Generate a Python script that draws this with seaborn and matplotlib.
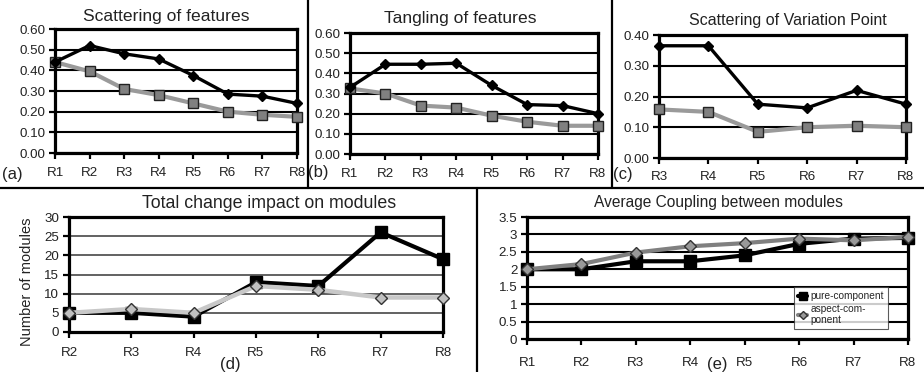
import numpy as np
import pandas as pd
import matplotlib
matplotlib.use("Agg")
import matplotlib.pyplot as plt
import seaborn as sns
from matplotlib.lines import Line2D
from matplotlib.ticker import FuncFormatter, MultipleLocator

# ---------------- data ----------------
rel_a = ["R1", "R2", "R3", "R4", "R5", "R6", "R7", "R8"]
scat_feat_aspect = [0.44, 0.52, 0.48, 0.455, 0.375, 0.285, 0.275, 0.24]
scat_feat_pure = [0.44, 0.395, 0.31, 0.28, 0.24, 0.20, 0.185, 0.175]

rel_b = ["R1", "R2", "R3", "R4", "R5", "R6", "R7", "R8"]
tang_feat_aspect = [0.33, 0.445, 0.445, 0.45, 0.34, 0.245, 0.24, 0.20]
tang_feat_pure = [0.325, 0.30, 0.24, 0.23, 0.19, 0.16, 0.14, 0.14]

rel_c = ["R3", "R4", "R5", "R6", "R7", "R8"]
scat_vp_aspect = [0.365, 0.365, 0.175, 0.163, 0.22, 0.175]
scat_vp_pure = [0.158, 0.15, 0.085, 0.10, 0.105, 0.10]

rel_d = ["R2", "R3", "R4", "R5", "R6", "R7", "R8"]
impact_pure = [5, 5, 4, 13, 12, 26, 19]
impact_aspect = [5, 6, 5, 12, 11, 9, 9]

rel_e = ["R1", "R2", "R3", "R4", "R5", "R6", "R7", "R8"]
coupling_pure = [2.0, 2.0, 2.23, 2.23, 2.4, 2.73, 2.88, 2.9]
coupling_aspect = [2.0, 2.15, 2.48, 2.66, 2.75, 2.88, 2.83, 2.93]

titles = ["Scattering of features", "Tangling of features",
          "Scattering of Variation Point", "Total change impact on modules",
          "Average Coupling between modules"]
legend_labels = ["pure-component", "aspect-com-\nponent"]

# ---------------- style ----------------
sns.set_theme(style="white")
plt.rcParams["font.family"] = ["Liberation Sans", "DejaVu Sans"]

W, H = 924, 372
fig = plt.figure(figsize=(W / 100, H / 100), dpi=100)
fig.patch.set_facecolor("white")


def add_ax(l, t, r, b):
    return fig.add_axes([l / W, 1 - b / H, (r - l) / W, (b - t) / H])


def style_ax(ax, cats, ymax, ystep, fmt, xpad, grid_color="black", grid_lw=1.5):
    ax.set_xlim(0, len(cats) - 1)
    ax.set_ylim(0, ymax)
    ax.set_xticks(range(len(cats)))
    ax.set_xticklabels(cats)
    ax.yaxis.set_major_locator(MultipleLocator(ystep))
    ax.yaxis.set_major_formatter(FuncFormatter(fmt))
    ax.set_axisbelow(True)
    ax.yaxis.grid(True, color=grid_color, lw=grid_lw)
    ax.xaxis.grid(False)
    for s in ax.spines.values():
        s.set_visible(True)
        s.set_color("black")
        s.set_linewidth(2.3)
    ax.tick_params(axis="both", bottom=True, left=True, direction="out",
                   length=4, width=1.6, color="black", labelsize=9.6,
                   labelcolor="#222222")
    ax.tick_params(axis="x", pad=xpad)
    ax.tick_params(axis="y", pad=3)
    ax.set_xlabel("")
    ax.set_ylabel("")
    ax.set_facecolor("white")


def draw(ax, vals, color, marker, ms, mfc, mec, lw, label=None):
    sns.lineplot(x=np.arange(len(vals)), y=vals, ax=ax, color=color,
                 marker=marker, markersize=ms, markerfacecolor=mfc,
                 markeredgecolor=mec, markeredgewidth=1.0, linewidth=lw,
                 label=label, legend=False, clip_on=False, zorder=3)


f2 = lambda v, p: f"{v:.2f}"
fg = lambda v, p: f"{v:g}"

# (a)
ax = add_ax(55, 29, 297, 153)
draw(ax, scat_feat_pure, "#9a9a9a", "s", 7.8, "#808080", "#222222", 3.0)
draw(ax, scat_feat_aspect, "black", "D", 5.5, "black", "black", 2.4)
style_ax(ax, rel_a, 0.6, 0.1, f2, 6)

# (b)
ax = add_ax(350, 33, 598, 154)
draw(ax, tang_feat_pure, "#9a9a9a", "s", 7.8, "#808080", "#222222", 3.0)
draw(ax, tang_feat_aspect, "black", "D", 5.5, "black", "black", 2.4)
style_ax(ax, rel_b, 0.6, 0.1, f2, 6)

# (c)
ax = add_ax(659, 35, 906, 158)
draw(ax, scat_vp_pure, "#9a9a9a", "s", 7.8, "#808080", "#222222", 3.0)
draw(ax, scat_vp_aspect, "black", "D", 5.5, "black", "black", 2.4)
style_ax(ax, rel_c, 0.4, 0.1, f2, 5)

# (d)
ax = add_ax(69, 217, 443, 332)
draw(ax, impact_pure, "black", "s", 8, "black", "black", 3.0)
draw(ax, impact_aspect, "#c8c8c8", "D", 6.5, "#c0c0c0", "#333333", 3.2)
style_ax(ax, rel_d, 30, 5, fg, 7, grid_color="#555555", grid_lw=1.3)

# (e)
ax = add_ax(527, 217, 908, 339)
draw(ax, coupling_pure, "black", "s", 8, "black", "black", 3.0, legend_labels[0])
draw(ax, coupling_aspect, "#808080", "D", 6.5, "#999999", "#333333", 3.0, legend_labels[1])
style_ax(ax, rel_e, 3.5, 0.5, fg, 9)
lines = ax.get_lines()
leg = ax.legend(lines[:2], legend_labels, loc="upper left",
                bbox_to_anchor=(789 / W, 1 - 282 / H), bbox_transform=fig.transFigure,
                fontsize=7.3, frameon=True, fancybox=False, edgecolor="#333333",
                handlelength=0.9, handletextpad=0.3, borderpad=0.4,
                labelspacing=0.25, markerscale=0.7)
leg.get_frame().set_linewidth(0.8)

# titles
fig.text(166 / W, 1 - 16 / H, titles[0], ha="center", va="center", fontsize=12.6, color="#222222")
fig.text(460 / W, 1 - 18 / H, titles[1], ha="center", va="center", fontsize=12.6, color="#222222")
fig.text(788 / W, 1 - 21 / H, titles[2], ha="center", va="center", fontsize=11.5, color="#222222")
fig.text(269 / W, 1 - 204 / H, titles[3], ha="center", va="center", fontsize=12.8, color="#222222")
fig.text(718 / W, 1 - 202 / H, titles[4], ha="center", va="center", fontsize=11.2, color="#222222")

# y label (d)
fig.text(27 / W, 1 - 282 / H, "Number of modules", rotation=90, ha="center",
         va="center", fontsize=10.5, color="#222222")

# panel labels
for txt, x, y, ha in [("(a)", 2, 175, "left"), ("(b)", 308, 172, "left"),
                      ("(c)", 613, 174, "left"), ("(d)", 230, 365, "center"),
                      ("(e)", 717, 365, "center")]:
    fig.text(x / W, 1 - y / H, txt, ha=ha, va="center", fontsize=12, color="#222222")

# divider lines
lk = dict(color="black", lw=1.6, transform=fig.transFigure)
fig.add_artist(Line2D([0, 1], [1 - 188 / H, 1 - 188 / H], **lk))
fig.add_artist(Line2D([308 / W, 308 / W], [1, 1 - 188 / H], **lk))
fig.add_artist(Line2D([612 / W, 612 / W], [1, 1 - 188 / H], **lk))
fig.add_artist(Line2D([477 / W, 477 / W], [1 - 188 / H, 0], **lk))

fig.savefig("out.png", dpi=100, facecolor="white")
